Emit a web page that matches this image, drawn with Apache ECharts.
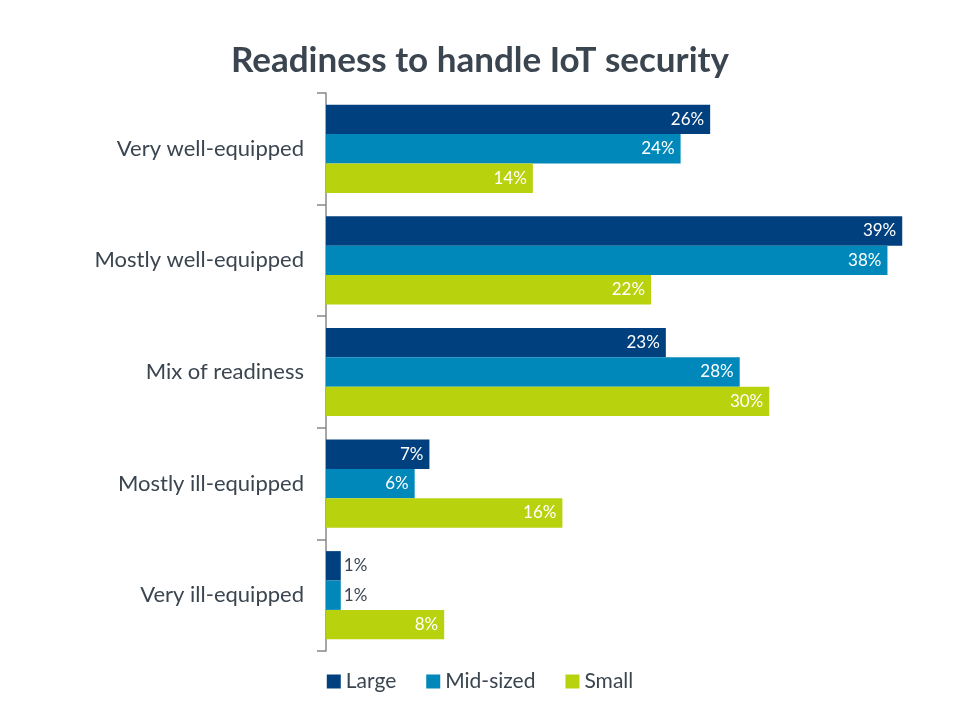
<!DOCTYPE html>
<html><head><meta charset="utf-8">
<script src="https://cdn.jsdelivr.net/npm/echarts@6/dist/echarts.min.js"></script>
<style>html,body{margin:0;padding:0;background:#fff}#c{width:960px;height:720px}</style>
</head><body><div id="c"></div>
<script>
const categories = ["Very well-equipped","Mostly well-equipped","Mix of readiness","Mostly ill-equipped","Very ill-equipped"];
const seriesNames = ["Large","Mid-sized","Small"];
const large = [26, 39, 23, 7, 1];
const midSized = [24, 38, 28, 6, 1];
const small = [14, 22, 30, 16, 8];
const colors = ["#00407f","#0088bb","#b8d20e"];
const textColor = "#3b4550";
const font = "Lato, 'Open Sans', sans-serif";

function mkData(arr){
  return arr.map(v => v < 3 ? {value:v, label:{position:'right', color:textColor, distance:3}} : v);
}
const chart = echarts.init(document.getElementById('c'));
const vals = [large, midSized, small];
chart.setOption({
  animation:false,
  title:{text:"Readiness to handle IoT security", left:'center', top:38,
    textStyle:{fontFamily:font, fontSize:35, fontWeight:'bold', color:textColor}},
  legend:{bottom:23, left:'center', itemWidth:14, itemHeight:14, itemGap:30, icon:'rect',
    textStyle:{fontFamily:font, fontSize:21, color:textColor}},
  grid:{left:326, right:43, top:93, bottom:69, containLabel:false},
  xAxis:{type:'value', min:0, max:40, show:false},
  yAxis:{type:'category', data:categories, inverse:true,
    axisLine:{show:true, lineStyle:{color:'#888', width:1.5}},
    axisTick:{show:true, length:9, lineStyle:{color:'#888', width:1.5}},
    axisLabel:{fontFamily:font, fontSize:22, color:textColor, margin:22}},
  series: seriesNames.map((n,i)=>({
    name:n, type:'bar', data:mkData(vals[i]), barGap:'0%', barCategoryGap:'21%',
    itemStyle:{color:colors[i]},
    label:{show:true, position:'insideRight', formatter:'{c}%', color:'#fff',
      fontFamily:font, fontSize:17, distance:6}
  }))
});
</script></body></html>
